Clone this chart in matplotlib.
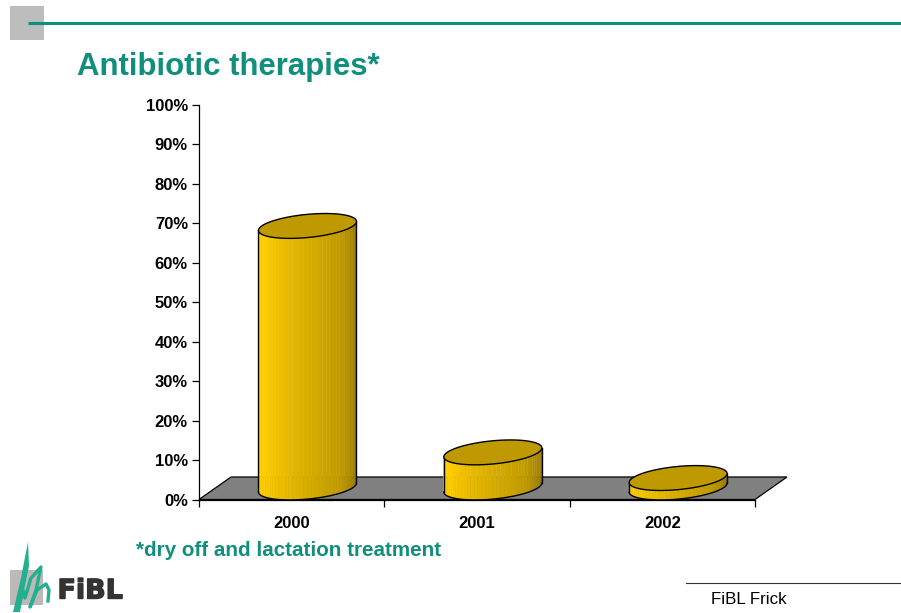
import numpy as np
import matplotlib
matplotlib.use("Agg")
import matplotlib.pyplot as plt
import matplotlib.patheffects as pe
from matplotlib.colors import LinearSegmentedColormap

years = ["2000", "2001", "2002"]
values = [66.3, 8.9, 2.4]
y_ticks = [0, 10, 20, 30, 40, 50, 60, 70, 80, 90, 100]

W, H = 901, 613
GREEN = "#0F8F7C"
plt.rcParams["font.family"] = ["Liberation Sans", "DejaVu Sans"]

fig = plt.figure(figsize=(W / 100, H / 100), dpi=100, facecolor="white")

# overlay in pixel coordinates for the slide furniture
bg = fig.add_axes([0, 0, 1, 1], zorder=0)
bg.set_xlim(0, W); bg.set_ylim(H, 0); bg.axis("off")
bg.fill([10, 44, 44, 10], [6, 6, 40, 40], color="#BDBDBD", lw=0)
bg.plot([28, 901], [23, 23], color=GREEN, lw=2.2, solid_capstyle="butt")
bg.text(77, 67, "Antibiotic therapies*", color=GREEN, fontsize=22.4, fontweight="bold", va="center", ha="left")
bg.text(136, 551, "*dry off and lactation treatment", color=GREEN, fontsize=14.9, fontweight="bold", va="center", ha="left")
bg.plot([686, 901], [583, 583], color="#333333", lw=0.8)
bg.text(711, 599, "FiBL Frick", color="black", fontsize=12.2, va="center", ha="left")
# logo
bg.fill([10, 43, 43, 10], [570, 570, 605, 605], color="#BDB9B7", lw=0)
bg.fill([13, 21, 28, 29, 24, 20], [612, 578, 542, 566, 590, 612], color="#22B08F", lw=0)
sx = [19, 23, 25, 31, 41, 36, 30, 37, 46, 49, 48]
sy = [606, 590, 598, 578, 567, 590, 607, 590, 584, 590, 601]
bg.plot(sx, sy, color="#22B08F", lw=2.4, solid_joinstyle="round")
bg.text(57.5, 591.5, "FiBL", color="#333333", fontsize=19.4, fontweight="bold",
        family=["DejaVu Sans"], va="center", ha="left",
        path_effects=[pe.withStroke(linewidth=1.0, foreground="#333333")])

# chart axes: x 199..755 px, y 499.5..105 px
L, R, B, T = 199, 755, 499.5, 105
ax = fig.add_axes([L / W, 1 - B / H, (R - L) / W, (B - T) / H], zorder=1)
ax.patch.set_alpha(0)
ax.set_xlim(0, 3); ax.set_ylim(0, 100)
px = 3 / (R - L)       # data units per pixel, x
py = 100 / (B - T)     # data units per pixel, y

# floor
dx, dy = 32 * px, 22.5 * py
ax.fill([0, 3, 3 + dx, dx], [0, 0, dy, dy], facecolor="#808080", edgecolor="black", lw=0.9, clip_on=False, zorder=1)

cmap = LinearSegmentedColormap.from_list(
    "gold", [(0, "#FFCC00"), (0.15, "#FFCC00"), (0.45, "#DDB100"), (0.75, "#BF9900"), (1, "#8C7200")])
a, tilt, b = 49 * px, 4.5 * py, 11.6 * py
off_x, off_y = 15.8 * px, 12 * py
t = np.linspace(0, 2 * np.pi, 121)

for i, v in enumerate(values):
    cx = i + 0.5 + off_x
    base = off_y
    top = base + v
    # body in vertical strips, front edge following the lower half of the ellipse
    s = np.linspace(np.pi, 0, 41)
    xs = cx + a * np.cos(s)
    low = base + tilt * np.cos(s) - b * np.sin(s)
    high = top + tilt * np.cos(s) - b * np.sin(s)
    for k in range(len(s) - 1):
        c = cmap(k / (len(s) - 2))
        ax.fill([xs[k], xs[k + 1], xs[k + 1], xs[k]], [low[k], low[k + 1], high[k + 1], high[k]],
                facecolor=c, edgecolor=c, lw=0.3, clip_on=False, zorder=2)
    ax.plot(xs, low, color="black", lw=1.0, zorder=3, clip_on=False)
    ax.plot([xs[0], xs[0]], [low[0], high[0]], color="black", lw=1.0, zorder=3, clip_on=False)
    ax.plot([xs[-1], xs[-1]], [low[-1], high[-1]], color="black", lw=1.0, zorder=3, clip_on=False)
    ax.fill(cx + a * np.cos(t), top + tilt * np.cos(t) + b * np.sin(t),
            facecolor="#BF9900", edgecolor="black", lw=1.0, clip_on=False, zorder=4)

for side in ("top", "right"):
    ax.spines[side].set_visible(False)
for side in ("left", "bottom"):
    ax.spines[side].set_linewidth(0.9)
    ax.spines[side].set_zorder(5)

ax.set_yticks(y_ticks)
ax.set_yticklabels([f"{v}%" for v in y_ticks], fontsize=12, fontweight="bold")
ax.set_xticks([0, 1, 2, 3])
ax.set_xticklabels([])
ax.set_xticks([0.5, 1.5, 2.5], minor=True)
ax.set_xticklabels(years, minor=True, fontsize=12, fontweight="bold")
ax.tick_params(axis="x", which="minor", length=0, pad=12)
ax.tick_params(axis="x", which="major", length=5, width=0.9)
ax.tick_params(axis="y", length=5, width=0.9, pad=3)

fig.savefig("out.png", dpi=100)
